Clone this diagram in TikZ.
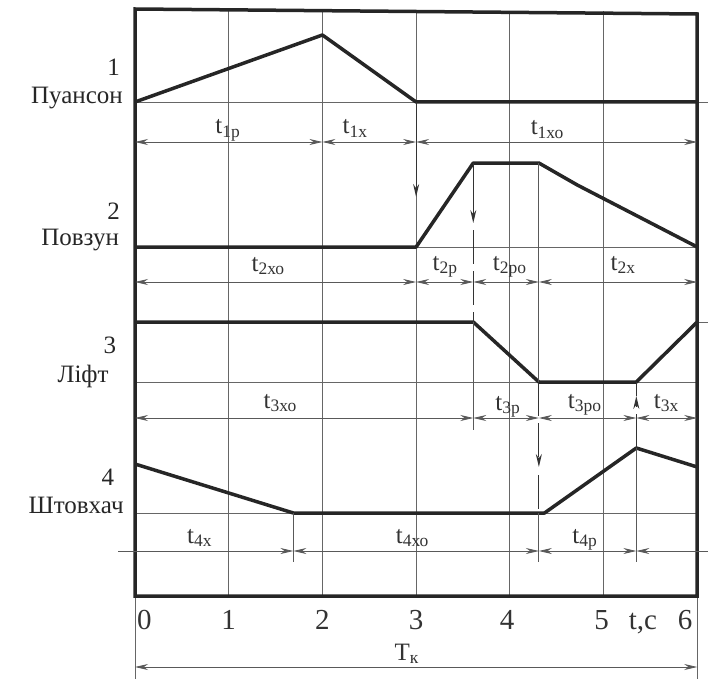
\documentclass[tikz,border=0pt]{standalone}
\usepackage{fontspec}
\setmainfont{Liberation Serif}
\usetikzlibrary{arrows.meta}

\begin{document}
\begin{tikzpicture}[x=93.7pt, y=-1pt, >={Stealth[length=13pt,width=6pt]},
        graph/.style={line width=3.5pt, black!85, line join=round},
        frame/.style={line width=3.5pt, black!85},
        grid/.style={line width=0.9pt, black!60},
        dim/.style={line width=0.8pt, black!65},
        guide/.style={line width=1.1pt, black!80},
        broken/.style={guide, dash pattern=on 34pt off 7pt},
        rowlbl/.style={font=\fontsize{25}{25}\selectfont, anchor=base east, black!85, inner sep=0pt},
        tlbl/.style={font=\fontsize{25}{25}\selectfont, anchor=base, black!80, inner sep=0pt},
        ticklbl/.style={font=\fontsize{29}{29}\selectfont, anchor=base, black!80, inner sep=0pt}]
        \useasboundingbox (-1.441,0) rectangle (6.115,679);

        % Grid
        \foreach \t in {1,...,5}
            \draw[grid] (\t,11) -- (\t,596);
        \draw[grid] (0,596) -- (0,679);
        \draw[grid] (6,596) -- (6,679);
        \draw[grid] (0,102) -- (6.115,102);
        \draw[grid] (0,247) -- (6,247);
        \draw[grid] (0,382) -- (6,382);
        \draw[grid] (0,513) -- (6,513);
        \draw[grid] (6,322) -- (6.115,322);

        % Frame
        \draw[frame] (0,596) -- (0,9) -- (6,14) -- (6,596) -- cycle;

        % Cycle of each unit
        \draw[graph] (0,102) -- (2,35) -- (3,102) -- (6,102);
        \draw[graph] (0,247) -- (3,247) -- (3.61,163) -- (4.31,163) -- (4.72,185) -- (6,247);
        \draw[graph] (0,322) -- (3.61,322) -- (4.31,382) -- (5.35,382) -- (6,322);
        \draw[graph] (0,464) -- (1.69,513) -- (4.37,513) -- (5.35,448) -- (6,467);

        % Switching moments
        \draw[guide,->] (3,102) -- (3,197);
        \draw[guide,->] (3.61,163) -- (3.61,223);
        \draw[broken] (3.61,230) -- (3.61,322);
        \draw[dim] (3.61,322) -- (3.61,430);
        \draw[dim] (4.31,163) -- (4.31,382);
        \draw[broken,->] (4.31,382) -- (4.31,467);
        \draw[broken] (4.31,475) -- (4.31,513);
        \draw[dim] (4.31,513) -- (4.31,562);
        \draw[broken,->] (5.35,448) -- (5.35,396);
        \draw[guide] (5.35,396) -- (5.35,382);
        \draw[dim] (5.35,448) -- (5.35,562);
        \draw[dim] (1.69,513) -- (1.69,562);

        % Time intervals
        \foreach \a/\b in {0/2, 2/3, 3/6}
            \draw[dim,<->] (\a,142) -- (\b,142);
        \foreach \a/\b in {0/3, 3/3.61, 3.61/4.31, 4.31/6}
            \draw[dim,<->] (\a,282) -- (\b,282);
        \foreach \a/\b in {0/3.61, 3.61/4.31, 4.31/5.35, 5.35/6}
            \draw[dim,<->] (\a,418) -- (\b,418);
        \draw[dim,->] (-0.18,551) -- (1.69,551);
        \draw[dim,<->] (1.69,551) -- (4.31,551);
        \draw[dim,<->] (4.31,551) -- (5.35,551);
        \draw[dim,<-] (5.35,551) -- (6.115,551);
        \draw[dim,<->] (0,667) -- (6,667);

        \node[tlbl] (t1r) at (0.99,134) {t\textsubscript{1р}};
        \node[tlbl] (t1h) at (2.35,134) {t\textsubscript{1х}};
        \node[tlbl] (t1ho) at (4.40,135) {t\textsubscript{1хо}};
        \node[tlbl] (t2ho) at (1.42,271) {t\textsubscript{2хо}};
        \node[tlbl] (t2r) at (3.31,270) {t\textsubscript{2р}};
        \node[tlbl] (t2ro) at (4.00,270) {t\textsubscript{2ро}};
        \node[tlbl] (t2h) at (5.21,270) {t\textsubscript{2х}};
        \node[tlbl] (t3ho) at (1.55,408) {t\textsubscript{3хо}};
        \node[tlbl] (t3r) at (3.98,410) {t\textsubscript{3р}};
        \node[tlbl] (t3ro) at (4.80,408) {t\textsubscript{3ро}};
        \node[tlbl] (t3h) at (5.67,408) {t\textsubscript{3х}};
        \node[tlbl] (t4h) at (0.69,543) {t\textsubscript{4х}};
        \node[tlbl] (t4ho) at (2.96,543) {t\textsubscript{4хо}};
        \node[tlbl] (t4r) at (4.80,543) {t\textsubscript{4р}};
        \node[tlbl] (tk) at (2.90,660) {T\textsubscript{к}};

        % Units
        \node[rowlbl] (n1) at (-0.16,76) {1};
        \node[rowlbl] (punch) at (-0.128,104) {Пуансон};
        \node[rowlbl] (n2) at (-0.16,219) {2};
        \node[rowlbl] (slide) at (-0.17,245) {Повзун};
        \node[rowlbl] (n3) at (-0.20,353) {3};
        \node[rowlbl] (lift) at (-0.28,382) {Ліфт};
        \node[rowlbl] (n4) at (-0.22,485) {4};
        \node[rowlbl] (pusher) at (-0.12,513) {Штовхач};

        % Time axis
        \foreach \t/\x in {0/0.1, 1/1, 2/2, 3/3, 4/3.97, 5/4.98, 6/5.87}
            \node[ticklbl] (s\t) at (\x,629) {\t};
        \node[ticklbl] (unit) at (5.42,629) {t,с};
    \end{tikzpicture}
\end{document}
